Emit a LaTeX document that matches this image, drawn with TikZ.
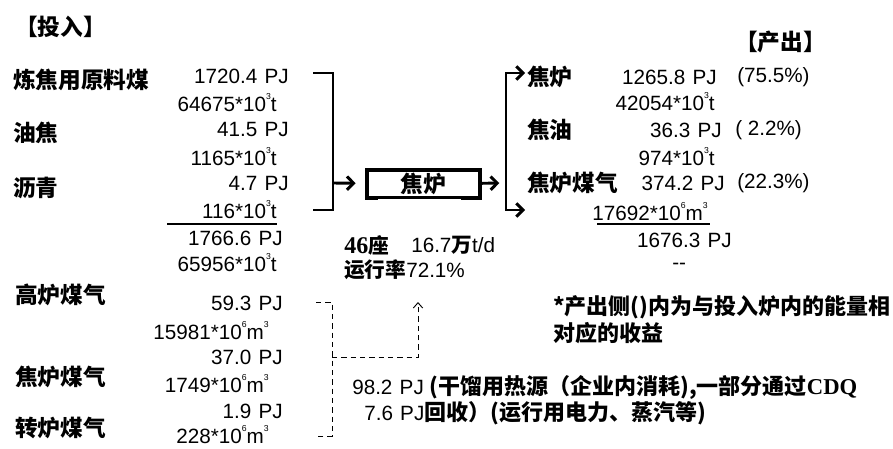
\documentclass[tikz,border=0pt]{standalone}
\usepackage{fontspec}
\setmainfont{Liberation Sans}
\newfontfamily\cjkfont{Noto Sans CJK SC}
\newfontfamily\romfont{Liberation Serif}
\usetikzlibrary{arrows.meta}

\newcommand\zh{\cjkfont\bfseries\fontsize{17}{20}\selectfont}
\newcommand\zhs{\cjkfont\bfseries\fontsize{16.5}{19}\selectfont}
\newcommand\numf{\fontsize{15.5}{18}\selectfont}
\newcommand\cj[1]{{\cjkfont\bfseries #1}}
\newcommand\cjn[1]{{\zhs #1}}
\newcommand\sq[1]{\raisebox{1.1ex}{\fontsize{6.5}{6.5}\selectfont #1}}
\newcommand\pj{\hspace{0.35em}PJ}

\begin{document}
\begin{tikzpicture}[x=0.75pt, y=-0.75pt,
    lbl/.style={anchor=west, inner sep=0pt, font=\zh},
    val/.style={anchor=east, inner sep=0pt, font=\numf},
    txt/.style={anchor=west, inner sep=0pt, font=\numf},
    note/.style={anchor=west, inner sep=0pt, font=\zhs},
    flow/.style={line width=2.2pt},
    gas/.style={line width=0.7pt, dash pattern=on 4pt off 3pt},
    ovenbox/.style={draw, line width=3pt, minimum width=84.75pt, minimum height=21pt, inner sep=0pt, font=\zh}]
    \useasboundingbox (0,0) rectangle (893,449);

    % input side
    \node[lbl] (inTitle) at (15,27) {【投入】};
    \node[lbl] (coal) at (13,80) {炼焦用原料煤};
    \node[lbl] (petco) at (13,133) {油焦};
    \node[lbl] (pitch) at (13,188) {沥青};
    \node[val] (coalPJ) at (289,76) {1720.4\pj};
    \node[val] (coalT) at (277,103) {64675*10\sq{3}t};
    \node[val] (petcoPJ) at (289,129) {41.5\pj};
    \node[val] (petcoT) at (277,157) {1165*10\sq{3}t};
    \node[val] (pitchPJ) at (289,183) {4.7\pj};
    \node[val] (pitchT) at (277,210) {116*10\sq{3}t};
    \draw[line width=0.9pt] (167,224) -- (277,224);
    \node[val] (sumPJ) at (283,238) {1766.6\pj};
    \node[val] (sumT) at (277,263) {65956*10\sq{3}t};

    % heating gases
    \node[lbl] (bfg) at (15,295) {高炉煤气};
    \node[lbl] (cog) at (15,377) {焦炉煤气};
    \node[lbl] (ldg) at (15,428) {转炉煤气};
    \node[val] (bfgPJ) at (283,303) {59.3\pj};
    \node[val] (bfgM) at (269,331) {15981*10\sq{6}m\sq{3}};
    \node[val] (cogPJ) at (283,357) {37.0\pj};
    \node[val] (cogM) at (269,384) {1749*10\sq{6}m\sq{3}};
    \node[val] (ldgPJ) at (283,411) {1.9\pj};
    \node[val] (ldgM) at (269,435) {228*10\sq{6}m\sq{3}};

    % oven
    \node[ovenbox] (oven) at (423.5,184) {焦炉};
    \draw[white, line width=3.4pt] ([xshift=10pt]oven.south west) -- ([xshift=-16pt]oven.south east);
    \draw[line width=0.8pt] ([xshift=9pt, yshift=1.2pt]oven.south west) -- ([xshift=-15pt, yshift=1.2pt]oven.south east);
    \node[txt] (seats) at (344,245) {{\romfont\bfseries\fontsize{18}{20}\selectfont 46}\cj{座}};
    \node[txt] (capa) at (411,245) {16.7\cj{万}t/d};
    \node[txt] (rate) at (344,270) {\cj{运行率}72.1\%};

    % connectors
    \coordinate (inTop) at (313,73);
    \coordinate (inBot) at (313,210);
    \coordinate (inJoin) at (333,183);
    \coordinate (outJoin) at (506,183);
    \coordinate (outTop) at (525,73);
    \coordinate (outBot) at (525,210);
    \draw[flow] (inTop) -| (inJoin) |- (inBot);
    \draw[flow, -{Straight Barb[length=5pt, width=10pt]}, shorten >=7pt] (inJoin) -- (oven);
    \draw[flow, -{Straight Barb[length=5pt, width=10pt]}, shorten >=5pt] (oven) -- (outJoin);
    \draw[flow, -{Straight Barb[length=5pt, width=10pt]}] (outJoin) |- (outTop);
    \draw[flow, -{Straight Barb[length=5pt, width=10pt]}] (outJoin) |- (outBot);

    \coordinate (gasTop) at (316,302);
    \coordinate (gasBot) at (316,436);
    \coordinate (gasJoin) at (332,357);
    \coordinate (heatTip) at (418,302);
    \draw[gas] (gasTop) -| (gasJoin) |- (gasBot);
    \draw[gas, -{Straight Barb[length=4pt, width=7pt]}] (gasJoin) -| (heatTip);

    % output side
    \node[lbl] (outTitle) at (735,42) {【产出】};
    \node[lbl] (coke) at (527,77) {焦炉};
    \node[val] (cokePJ) at (717,77) {1265.8\pj};
    \node[txt] (cokeR) at (737,77) {(75.5\%)};
    \node[val] (cokeT) at (715,102) {42054*10\sq{3}t};
    \node[lbl] (tar) at (527,130) {焦油};
    \node[val] (tarPJ) at (722,130) {36.3\pj};
    \node[txt] (tarR) at (735,130) {( 2.2\%)};
    \node[val] (tarT) at (715,157) {974*10\sq{3}t};
    \node[lbl] (ocog) at (527,183) {焦炉煤气};
    \node[val] (ocogPJ) at (725,183) {374.2\pj};
    \node[txt] (ocogR) at (737,183) {(22.3\%)};
    \node[val] (ocogM) at (708,212) {17692*10\sq{6}m\sq{3}};
    \draw[line width=0.9pt] (597,224) -- (710,224);
    \node[val] (outPJ) at (732,240) {1676.3\pj};
    \node[txt] (outT) at (672,266) {-{}-};

    % notes
    \node[note] (remark1) at (553,307) {*产出侧()内为与投入炉内的能量相};
    \node[note] (remark2) at (553,333) {对应的收益};
    \node[txt] (heat1) at (352,387) {98.2\pj\ \cjn{(干馏用热源（企业内消耗),一部分通过}{\romfont\bfseries\fontsize{17}{19}\selectfont CDQ}};
    \node[txt] (heat2) at (364,413) {7.6\pj\cjn{回收）(运行用电力、蒸汽等)}};
\end{tikzpicture}
\end{document}
